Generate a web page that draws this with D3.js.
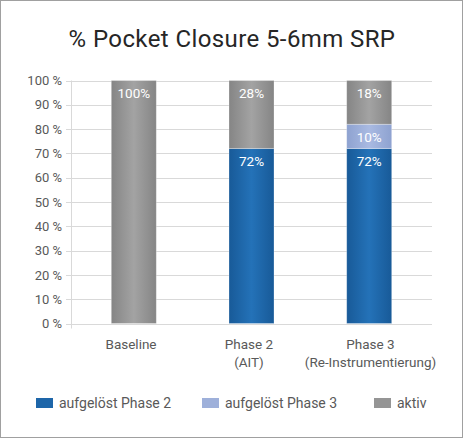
<!DOCTYPE html>
<html><head><meta charset="utf-8">
<script src="https://cdn.jsdelivr.net/npm/d3@7"></script>
<style>
html,body{margin:0;padding:0;background:#fff;}
text{font-family:Roboto,"Noto Sans",sans-serif;}
</style></head>
<body>
<svg id="chart" width="465" height="439"></svg>
<script>
const categories = [["Baseline"], ["Phase 2", "(AIT)"], ["Phase 3", "(Re-Instrumentierung)"]];
const seriesNames = ["aufgelöst Phase 2", "aufgelöst Phase 3", "aktiv"];
const resolvedPhase2 = [0, 0.72, 0.72];
const resolvedPhase3 = [0, 0, 0.10];
const active = [1.00, 0.28, 0.18];
const yTicks = [0, 0.1, 0.2, 0.3, 0.4, 0.5, 0.6, 0.7, 0.8, 0.9, 1.0];
const title = "% Pocket Closure 5-6mm SRP";

const colors = ["#1e66a9", "#9eb0da", "#959595"];
const gradStops = [
  ["#185a98", "#2472b8", "#185a98"],
  ["#8ea2d0", "#a9bae2", "#8ea2d0"],
  ["#858585", "#a3a3a3", "#858585"]
];

const svg = d3.select("#chart");
svg.append("rect").attr("x",0.5).attr("y",0.5).attr("width",462).attr("height",437)
  .attr("fill","#fff").attr("stroke","#a0a0a0").attr("stroke-width",1);

const defs = svg.append("defs");
gradStops.forEach((s,i)=>{
  const g = defs.append("linearGradient").attr("id","g"+i)
    .attr("x1","0%").attr("y1","0%").attr("x2","100%").attr("y2","0%");
  g.append("stop").attr("offset","0%").attr("stop-color",s[0]);
  g.append("stop").attr("offset","50%").attr("stop-color",s[1]);
  g.append("stop").attr("offset","100%").attr("stop-color",s[2]);
});

svg.append("text").attr("x",232).attr("y",47).attr("text-anchor","middle")
  .attr("font-size",24).attr("letter-spacing",0.4).attr("fill","#262626").text(title);

const x = d3.scaleBand().domain(d3.range(categories.length)).range([75, 428]).paddingInner(0.617).paddingOuter(0.308);
const y = d3.scaleLinear().domain([0,1]).range([323.5, 80.5]);

// gridlines
svg.append("g").selectAll("line").data(yTicks).join("line")
  .attr("x1",66).attr("x2",432)
  .attr("y1",d=>Math.round(y(d))+0.5).attr("y2",d=>Math.round(y(d))+0.5)
  .attr("stroke","#d9d9d9").attr("stroke-width",1);
// axis line
svg.append("line").attr("x1",71.5).attr("x2",71.5).attr("y1",y(1)).attr("y2",y(0)+5)
  .attr("stroke","#d9d9d9");

const yAxis = d3.axisLeft(y).tickValues(yTicks).tickSize(0).tickPadding(0)
  .tickFormat(d=>Math.round(d*100)+" %");
const ya = svg.append("g").attr("transform","translate(62,0)").call(yAxis);
ya.select(".domain").remove();
ya.selectAll("text").attr("font-size",13).attr("fill","#595959").attr("font-family","Roboto");

// stacked data
const rows = categories.map((c,i)=>({i, s0: resolvedPhase2[i], s1: resolvedPhase3[i], s2: active[i]}));
const stack = d3.stack().keys(["s0","s1","s2"])(rows);
const bw = 45;
stack.forEach((layer, k)=>{
  const g = svg.append("g");
  layer.forEach((seg, idx)=>{
    const v = seg[1]-seg[0];
    if (v <= 0) return;
    const cx = x(idx) + x.bandwidth()/2;
    g.append("rect").attr("x",cx-bw/2).attr("width",bw)
      .attr("y",y(seg[1])).attr("height",y(seg[0])-y(seg[1]))
      .attr("fill","url(#g"+k+")").attr("stroke","rgba(255,255,255,0.35)").attr("stroke-width",0.8);
    g.append("text").attr("x",cx).attr("y",y(seg[1])+17.5).attr("text-anchor","middle")
      .attr("font-size",13.5).attr("fill","#ffffff").text(Math.round(v*100)+"%");
  });
});

// category labels
const labelX = [131, 249, 370.5];
categories.forEach((c,i)=>{
  const t = svg.append("text").attr("text-anchor","middle").attr("font-size",13.5).attr("fill","#595959");
  c.forEach((line,j)=>{
    t.append("tspan").attr("x", x(i)+x.bandwidth()/2 + (labelX[i]-(x(i)+x.bandwidth()/2))).attr("y",349+18*j).text(line);
  });
});

// legend
const legendX = [36, 202, 374];
seriesNames.forEach((n,i)=>{
  svg.append("rect").attr("x",legendX[i]).attr("y",398).attr("width",17).attr("height",10).attr("fill",colors[i]);
  svg.append("text").attr("x",legendX[i]+23).attr("y",408).attr("font-size",14).attr("fill","#595959").text(n);
});
</script>
</body></html>
